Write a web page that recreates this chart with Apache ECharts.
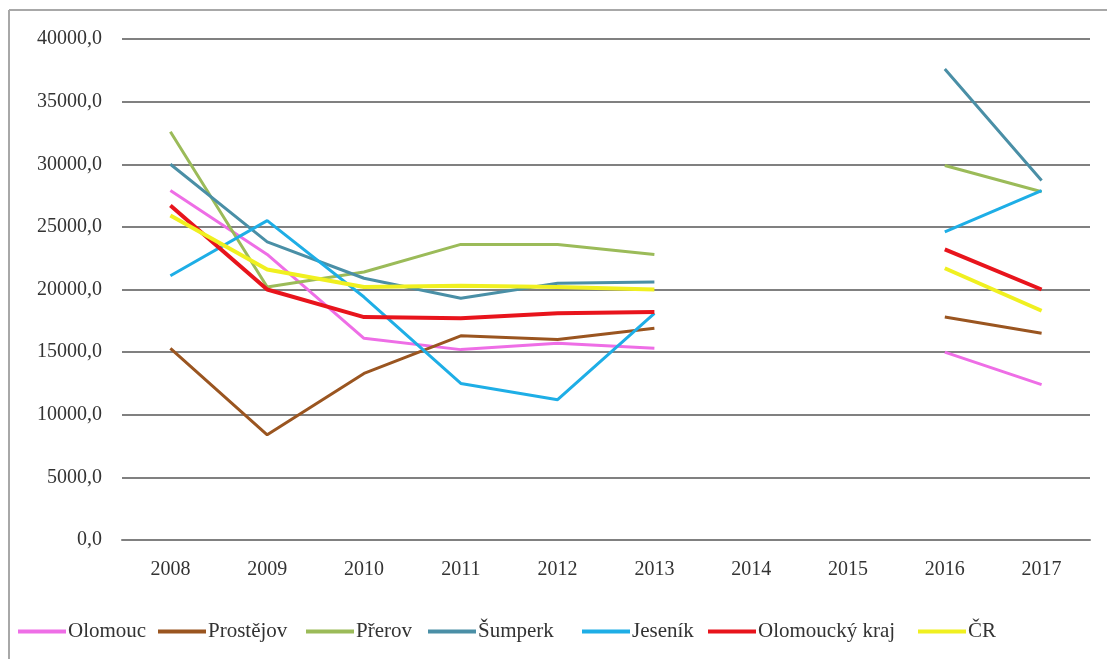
<!DOCTYPE html>
<html>
<head>
<meta charset="utf-8">
<script src="https://cdn.jsdelivr.net/npm/echarts@6/dist/echarts.min.js"></script>
<style>
html,body{margin:0;padding:0;background:#fff;}
#chart{width:1107px;height:659px;}
</style>
</head>
<body>
<div id="chart"></div>
<script>
const categories = ['2008','2009','2010','2011','2012','2013','2014','2015','2016','2017'];
const olomouc   = [27900, 22800, 16100, 15200, 15700, 15300, null, null, 15000, 12400];
const prostejov = [15300,  8400, 13300, 16300, 16000, 16900, null, null, 17800, 16500];
const prerov    = [32600, 20200, 21400, 23600, 23600, 22800, null, null, 29900, 27800];
const sumperk   = [30000, 23800, 20900, 19300, 20500, 20600, null, null, 37600, 28700];
const jesenik   = [21100, 25500, 19400, 12500, 11200, 18100, null, null, 24600, 27900];
const olKraj    = [26700, 20000, 17800, 17700, 18100, 18200, null, null, 23200, 20000];
const cr        = [25900, 21600, 20200, 20300, 20200, 20000, null, null, 21700, 18300];
const seriesNames = ['Olomouc','Prostějov','Přerov','Šumperk','Jeseník','Olomoucký kraj','ČR'];
const yTicks = [0, 5000, 10000, 15000, 20000, 25000, 30000, 35000, 40000];

const colors = ['#ee6ee6','#9a5520','#9bbb59','#4a8fa6','#1eaee6','#e8141c','#f0f020'];
const widths = [3, 3, 3, 3, 3, 4, 4];
const legendLefts = [13, 153, 301, 423, 577, 703, 913];
const allData = [olomouc, prostejov, prerov, sumperk, jesenik, olKraj, cr];
const serif = '"Liberation Serif", "DejaVu Serif", serif';

const chart = echarts.init(document.getElementById('chart'), null, {renderer:'canvas'});
chart.setOption({
  animation: false,
  backgroundColor: '#fff',
  color: colors,
  grid: {left: 122, right: 17, top: 39, bottom: 119, containLabel: false},
  graphic: [
    {type:'line', shape:{x1:9, y1:10, x2:1107, y2:10}, style:{stroke:'#a8a8a8', lineWidth:2}},
    {type:'line', shape:{x1:9, y1:10, x2:9, y2:659}, style:{stroke:'#a8a8a8', lineWidth:2}}
  ],
  xAxis: {
    type: 'category',
    data: categories,
    boundaryGap: true,
    axisLine: {show: true, lineStyle: {color: '#808080', width: 2}},
    axisTick: {show: false},
    axisLabel: {color: '#333', fontFamily: serif, fontSize: 20, margin: 20}
  },
  yAxis: {
    type: 'value',
    min: yTicks[0],
    max: yTicks[yTicks.length - 1],
    interval: yTicks[1] - yTicks[0],
    axisLine: {show: false},
    axisTick: {show: false},
    splitLine: {lineStyle: {color: '#808080', width: 2}},
    axisLabel: {
      color: '#333', fontFamily: serif, fontSize: 20, margin: 20,
      formatter: v => v.toFixed(1).replace('.', ',')
    }
  },
  legend: seriesNames.map((n, i) => ({
    left: legendLefts[i], top: 616,
    icon: 'rect',
    itemWidth: 48, itemHeight: 4,
    textStyle: {color: '#333', fontFamily: serif, fontSize: 21, padding: [0, 0, 0, -3]},
    data: [n]
  })),
  series: seriesNames.map((n, i) => ({
    name: n,
    type: 'line',
    data: allData[i],
    symbol: 'none',
    connectNulls: false,
    lineStyle: {width: widths[i], color: colors[i]},
    itemStyle: {color: colors[i]}
  }))
});
</script>
</body>
</html>
